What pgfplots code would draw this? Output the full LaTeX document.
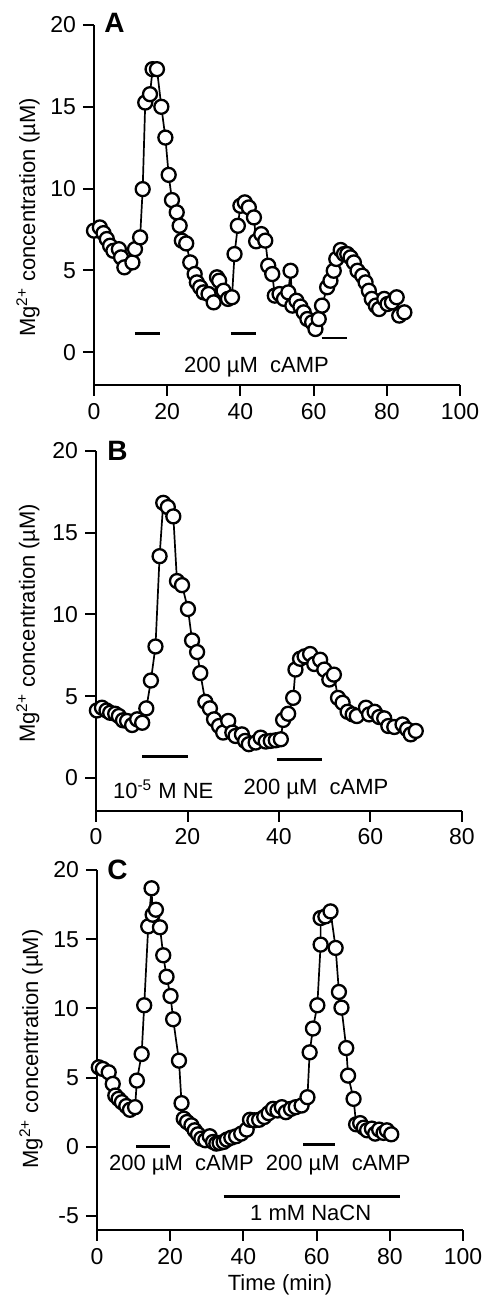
\documentclass[border=0pt]{standalone}
\usepackage{fontspec}
\setmainfont{Liberation Sans}
\usepackage{pgfplots}
\pgfplotsset{compat=1.18}
\tikzset{
 ann/.style={font=\fontsize{11}{13}\selectfont},
 pletter/.style={font=\fontsize{14}{16}\selectfont\bfseries},
}
\begin{document}
\begin{tikzpicture}
\useasboundingbox (0,0) rectangle (244pt,650pt);
\pgfplotsset{
 mg/.style={
  scale only axis, width=183pt, height=180pt,
  axis lines*=left, axis line style={line width=1pt,-},
  tick align=outside, major tick length=5.5pt,
  every tick/.style={black, line width=1pt},
  tick label style={font=\fontsize{11.5}{13}\selectfont},
  /pgf/number format/assume math mode=true,
  ymin=-2, ymax=20, ytick={0,5,10,15,20},
  xmin=0, clip=false,
  label style={font=\fontsize{11}{13}\selectfont},
  ylabel={Mg\textsuperscript{2+} concentration (µM)},
 },
 dat/.style={black, line width=0.85pt, mark=*, mark size=3.5pt, mark options={line width=1.15pt, fill=white, draw=black, solid}},
 bar/.style={black, line width=1.3pt, mark=none},
}
% ---------------- Panel A
\begin{axis}[mg, at={(47pt,457.5pt)}, xmax=100, xtick={0,20,40,60,80,100},
  ylabel style={at={(axis description cs:-0.180,0.466)}, anchor=center}]
\addplot[dat] coordinates {
(0,7.43) (1.6,7.63) (2.6,7.28) (3.5,6.92) (4.4,6.51) (5.3,6.2) (6.8,6.3) (7.4,5.8) (8.3,5.19)
(10.5,5.49) (11.2,6.3) (12.6,7.02) (13.3,9.97) (14.0,15.26) (15.3,15.77) (16.0,17.3) (17.2,17.3)
(18.4,15.0) (19.5,13.12) (20.4,10.84) (21.3,9.3) (22.6,8.55) (23.4,7.73) (24.0,6.82) (25.2,6.65)
(26.3,5.49) (27.5,4.78) (28.1,4.27) (29.0,3.97) (29.95,3.66) (31.3,3.56) (32.7,3.05) (33.6,4.58)
(34.2,4.37) (35.4,3.76) (36.6,3.26) (37.7,3.36) (38.4,6.0) (39.3,7.73) (40.0,8.95) (41.2,9.16)
(42.3,8.85) (43.7,8.24) (44.3,6.78) (45.7,7.22) (46.8,6.82) (47.6,5.29) (48.7,4.78) (49.4,3.46)
(50.7,3.56) (51.9,3.26) (53.1,3.66) (53.7,4.98) (54.2,2.85) (55.3,3.15) (56.4,2.79) (57.3,2.44)
(58.3,2.03) (59.6,1.83) (60.5,1.42) (61.4,2.03) (62.3,2.85) (63.7,3.97) (64.6,4.37) (65.5,4.98)
(66.2,5.7) (67.4,6.25) (68.3,6.0) (69.2,6.0) (70.1,5.8) (71.0,5.49) (72.0,4.98) (73.3,4.68)
(74.2,4.27) (75.1,3.76) (75.9,3.26) (77.0,2.85) (77.9,2.64) (79.3,3.26) (80.2,2.95) (81.4,3.05)
(82.7,3.36) (83.4,2.24) (84.8,2.44)
};
\addplot[bar] coordinates {(11.2,1.16) (18.1,1.16)};
\addplot[bar] coordinates {(37.4,1.16) (44.3,1.16)};
\addplot[bar] coordinates {(62.2,0.88) (69.2,0.88)};
\node[ann] at (axis cs:44.4,-0.91) {200 µM\ \ cAMP};
\node[pletter] at (axis cs:5.6,20.1) {A};
\end{axis}
% ---------------- Panel B
\begin{axis}[mg, at={(48pt,244.6pt)}, xmax=80, xtick={0,20,40,60,80},
  ylabel style={at={(axis description cs:-0.186,0.521)}, anchor=center}]
\addplot[dat] coordinates {
(0.2,4.13) (1.3,4.30) (2.3,4.13) (3.1,3.99) (4.2,3.93) (5.0,3.79) (5.9,3.53) (6.8,3.49) (7.9,3.24)
(9.0,3.59) (10.1,3.38) (11.0,4.26) (12.0,5.96) (13.0,8.04) (13.9,13.56) (14.7,16.82) (15.7,16.56)
(16.9,15.99) (17.7,12.04) (18.8,11.79) (20.1,10.33) (21.0,8.41) (22.1,7.70) (22.8,6.42) (23.9,4.66)
(24.9,4.26) (25.8,3.59) (26.9,3.18) (27.8,2.78) (28.9,3.49) (29.8,2.78) (30.5,2.57) (31.9,2.67)
(32.6,2.27) (33.4,2.07) (34.9,2.17) (36.0,2.47) (37.1,2.23) (38.2,2.27) (39.3,2.31) (40.4,2.37)
(40.9,3.55) (42.0,3.93) (43.1,4.90) (43.6,6.63) (44.6,7.29) (45.6,7.44) (46.8,7.58) (47.7,6.97)
(49.0,7.23) (49.9,6.63) (51.0,6.02) (52.0,6.32) (52.9,4.90) (53.9,4.60) (55.0,4.05) (56.1,3.89)
(57.0,3.79) (59.0,4.30) (59.7,3.89) (60.9,4.05) (61.9,3.73) (63.0,3.65) (63.9,3.18) (65.2,3.12)
(67.0,3.28) (68.0,2.98) (68.8,2.67) (69.9,2.88)
};
\addplot[bar] coordinates {(10.1,1.3) (20.1,1.3)};
\addplot[bar] coordinates {(39.5,1.15) (49.4,1.15)};
\node[ann] at (axis cs:14.7,-0.67) {10\textsuperscript{-5} M NE};
\node[ann] at (axis cs:48.1,-0.67) {200 µM\ \ cAMP};
\node[pletter] at (axis cs:4.7,20.0) {B};
\end{axis}
% ---------------- Panel C
\begin{axis}[mg, at={(48.5pt,35pt)}, xmax=100, xtick={0,20,40,60,80,100},
  ymin=-6, ytick={-5,0,5,10,15,20},
  xlabel={Time (min)},
  xlabel style={at={(axis description cs:0.5,0)}, yshift=-27.5pt, anchor=center},
  ylabel style={at={(axis description cs:-0.180,0.503)}, anchor=center}]
\addplot[dat] coordinates {
(0.5,5.75) (1.6,5.63) (3.2,5.39) (4.3,4.55) (5.0,3.71) (5.9,3.47) (6.8,3.23) (8.0,2.95) (9.0,2.68)
(10.4,2.87) (10.9,4.79) (12.2,6.71) (12.9,10.23) (14.0,15.93) (14.9,18.68) (15.2,16.77) (16.1,17.13)
(17.2,15.86) (18.1,13.84) (19.0,12.29) (20.1,10.90) (20.8,9.22) (22.4,6.23) (23.1,3.16) (23.7,2.04)
(24.6,1.80) (25.8,1.56) (26.7,1.20) (27.6,0.91) (28.5,0.60) (29.6,0.48) (30.8,0.77) (31.7,0.36)
(32.6,0.24) (33.5,0.29) (34.6,0.36) (35.5,0.53) (36.7,0.67) (38.0,0.77) (39.4,0.96) (40.9,1.25)
(41.8,1.96) (43.0,1.92) (44.3,1.96) (45.7,2.16) (46.9,2.44) (48.1,2.75) (49.3,2.63) (50.5,2.87)
(51.6,2.51) (53.0,2.75) (54.3,2.87) (55.9,2.99) (57.5,3.59) (58.1,6.83) (59.0,8.55) (60.2,10.23)
(61.1,14.61) (61.1,16.53) (62.4,16.65) (63.8,17.01) (65.2,14.37) (66.1,11.19) (66.8,10.06) (68.1,7.14)
(68.6,5.15) (70.1,3.47) (70.8,1.63) (71.9,1.72) (72.9,1.39) (73.8,1.20) (75.1,1.32) (76.0,0.96)
(77.1,1.25) (78.3,1.01) (79.2,1.20) (80.4,0.91)
};
\addplot[bar] coordinates {(10.7,0.05) (19.9,0.05)};
\addplot[bar] coordinates {(56.4,0.17) (65.0,0.17)};
\addplot[bar] coordinates {(34.6,-3.6) (82.9,-3.6)};
\node[ann] at (axis cs:23.1,-1.31) {200 µM\ \ cAMP};
\node[ann] at (axis cs:65.9,-1.31) {200 µM\ \ cAMP};
\node[ann] at (axis cs:58.4,-4.79) {1 mM NaCN};
\node[pletter] at (axis cs:5.6,20.0) {C};
\end{axis}
\end{tikzpicture}
\end{document}
